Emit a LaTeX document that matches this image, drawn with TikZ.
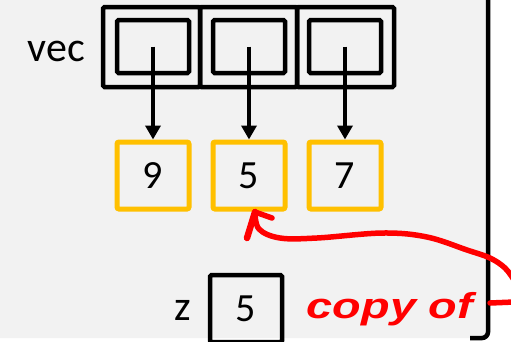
\documentclass[tikz,border=0pt]{standalone}
\usepackage{fontspec}
\setmainfont{Carlito}
\newfontfamily\handfont{Liberation Sans}
\usetikzlibrary{arrows.meta}
\definecolor{panelgray}{HTML}{F2F2F2}
\definecolor{cellyellow}{HTML}{FFC000}
\definecolor{inkred}{HTML}{FF0000}
\begin{document}
\begin{tikzpicture}[x=1pt,y=-1pt,
  cell/.style={draw=black,line width=4.5pt,rounded corners=1.5pt,minimum width=97pt,minimum height=80pt,inner sep=0pt},
  ptrbox/.style={draw=black,line width=4.5pt,rounded corners=1.5pt,minimum width=72pt,minimum height=53pt,inner sep=0pt},
  valbox/.style={draw=cellyellow,line width=5pt,rounded corners=2pt,minimum width=72pt,minimum height=67pt,inner sep=0pt,font=\fontsize{40}{48}\selectfont},
  plainbox/.style={draw=black,line width=4.5pt,rounded corners=1.5pt,minimum width=72pt,minimum height=67pt,inner sep=0pt,font=\fontsize{40}{48}\selectfont},
  label/.style={inner sep=0pt,font=\fontsize{42}{50}\selectfont},
  ptr/.style={line width=4.5pt,-{Triangle[width=15pt,length=14pt]}},
  ink/.style={draw=inkred,line width=5.5pt,line cap=round,line join=round}]
\useasboundingbox (0,0) rectangle (511,341);
\begin{scope}
\clip (0,0) rectangle (511,341);
% background panel with its right border
\fill[panelgray,rounded corners=6pt] (-10,-10) rectangle (488,338);
\draw[line width=4.5pt,rounded corners=6pt] (488,-10) -- (488,338) -- (470,338);

% the vector: three cells, each holding a pointer
\node[label] (vec) at (56.5,51) {vec};
\node[cell] (c1) at (151.5,47) {};
\node[cell] (c2) at (248.5,47) {};
\node[cell] (c3) at (345.5,47) {};
\node[ptrbox] (p1) at (153,46.5) {};
\node[ptrbox] (p2) at (249,46.5) {};
\node[ptrbox] (p3) at (345,46.5) {};

% the heap values
\node[valbox] (v1) at (153,175.5) {9};
\node[valbox] (v2) at (249,175.5) {5};
\node[valbox] (v3) at (345,175.5) {7};

\draw[ptr] (p1.center) -- (v1.north);
\draw[ptr] (p2.center) -- (v2.north);
\draw[ptr] (p3.center) -- (v3.north);

% the local variable z
\node[label] (zl) at (183,310) {z};
\node[plainbox] (z) at (246,308.5) {5};

% hand-drawn annotation
\coordinate (tip) at (255,212);
\draw[ink] plot[smooth,tension=0.6] coordinates {(tip) (259,229) (280,238) (317,238) (383,233) (427,237) (467,250) (490,258) (505,268) (514,280)};
\draw[ink,line width=6.5pt] (247,238) -- (tip);
\draw[ink] (272,218) -- (tip);
\draw[ink] (490,303) -- (514,302);
\node[text=inkred,inner sep=0pt,font=\handfont\bfseries\itshape\fontsize{36}{44}\selectfont,xscale=1.3] (copy) at (390,309) {copy of};
\end{scope}
\end{tikzpicture}
\end{document}
